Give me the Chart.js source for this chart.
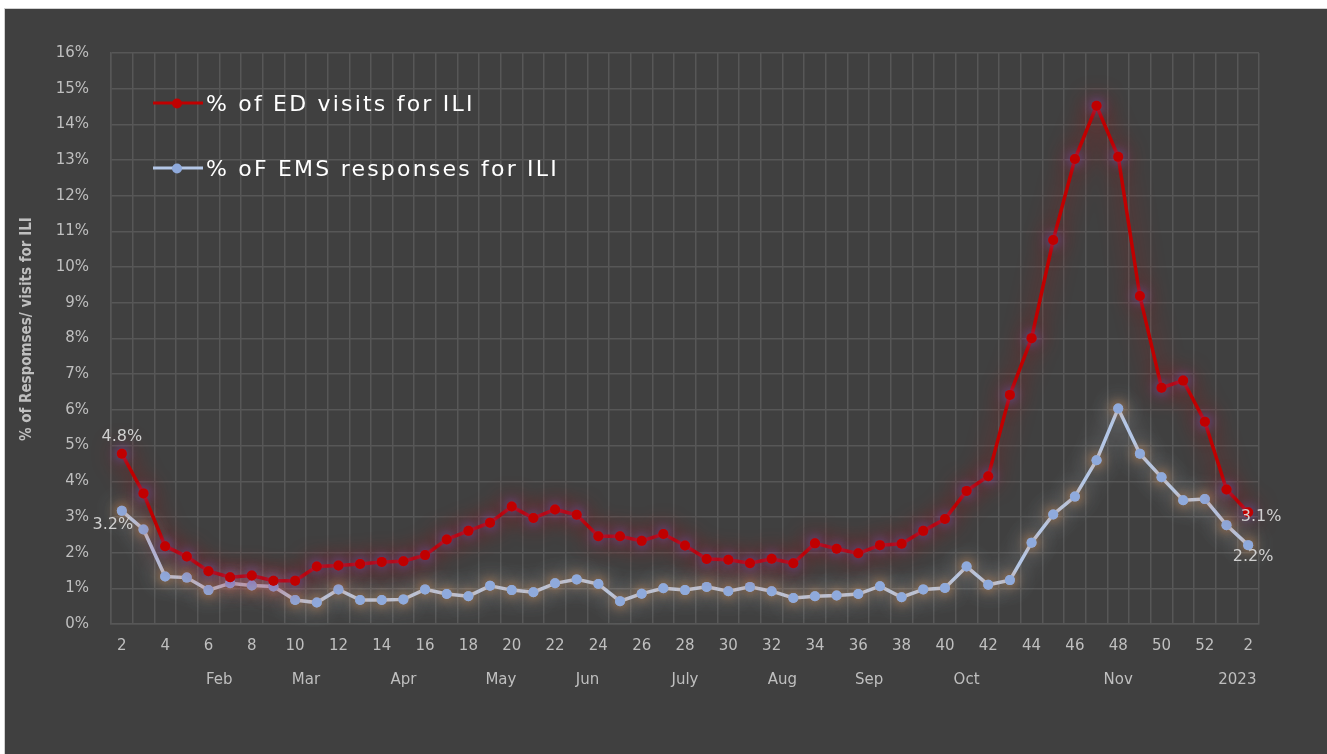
<!DOCTYPE html>
<html>
<head>
<meta charset="utf-8">
<script src="https://cdn.jsdelivr.net/npm/chart.js@4.4.1/dist/chart.umd.min.js"></script>
<style>
html,body{margin:0;padding:0;background:#ffffff;width:1327px;height:754px;overflow:hidden}
#frame{position:absolute;left:4px;top:8px;width:1322px;height:745px;background:#404040;border-left:1px solid #d0d0d0;border-top:1px solid #d0d0d0}
#wrap{position:absolute;left:0;top:0;width:1322px;height:745px}
#legend{position:absolute;left:0;top:0;font-family:'DejaVu Sans',sans-serif;font-size:22px;letter-spacing:2.2px;color:#ffffff}
.item{position:absolute;display:flex;align-items:center;white-space:nowrap;transform:translateY(-50%)}
.swatch{position:relative;width:50px;height:12px;margin-right:3px}
.swatch .ln{position:absolute;left:0;right:0;top:4.5px;height:3px}
.swatch .dt{position:absolute;left:19px;top:1px;width:10px;height:10px;border-radius:50%}
</style>
</head>
<body>
<div id="frame">
  <div id="wrap"><canvas id="c" width="1322" height="745"></canvas></div>
  <div id="legend"></div>
</div>
<script>
// ---- data ----
const weeks = ['2','3','4','5','6','7','8','9','10','11','12','13','14','15','16','17','18','19','20','21','22','23','24','25','26','27','28','29','30','31','32','33','34','35','36','37','38','39','40','41','42','43','44','45','46','47','48','49','50','51','52','1','2'];
const edVisits = [4.77,3.66,2.18,1.89,1.48,1.31,1.36,1.21,1.21,1.61,1.64,1.68,1.74,1.76,1.93,2.37,2.61,2.84,3.29,2.97,3.21,3.06,2.46,2.46,2.33,2.52,2.20,1.82,1.80,1.70,1.83,1.70,2.26,2.11,1.98,2.21,2.25,2.61,2.94,3.73,4.14,6.42,8.01,10.76,13.03,14.52,13.09,9.19,6.62,6.82,5.67,3.77,3.13];
const emsResponses = [3.17,2.65,1.33,1.30,0.95,1.14,1.08,1.05,0.67,0.60,0.97,0.67,0.67,0.69,0.97,0.84,0.78,1.07,0.95,0.89,1.14,1.25,1.12,0.64,0.85,1.00,0.95,1.04,0.92,1.04,0.92,0.73,0.78,0.80,0.84,1.06,0.75,0.97,1.01,1.61,1.10,1.23,2.28,3.07,3.57,4.59,6.04,4.77,4.11,3.47,3.50,2.77,2.21];
const monthLabels = ['Feb','Mar','Apr','May','Jun','July','Aug','Sep','Oct','Nov','2023'];
const monthPositions = [4.5,8.5,13,17.5,21.5,26,30.5,34.5,39,46,51.5];
const seriesNames = ['% of ED visits for ILI','% oF EMS responses for ILI'];
const yTitle = '% of Respomses/ visits for ILI';
const yMin = 0, yMax = 16, yStep = 1;

// ---- styles ----
const GRID = '#575757';
const TICK = '#bfbfbf';
const TICKFONT = {family:"'DejaVu Sans', sans-serif", size:15};

const glowPlugin = {
  id:'glow',
  beforeDatasetDraw(chart, args){
    const ds = chart.data.datasets[args.index];
    const ctx = chart.ctx;
    ctx.save();
    ctx.shadowColor = ds.glowColor;
    ctx.shadowBlur = 24;
  },
  afterDatasetDraw(chart, args){
    const ds = chart.data.datasets[args.index];
    const ctx = chart.ctx;
    ctx.restore();
    ctx.save();
    ctx.shadowColor = ds.pointGlow;
    ctx.shadowBlur = 12;
    args.meta.data.forEach(p => p.draw(ctx, chart.chartArea));
    ctx.restore();
  }
};

const endLabelPlugin = {
  id:'endLabels',
  afterDatasetsDraw(chart){
    const ctx = chart.ctx;
    ctx.save();
    ctx.fillStyle = '#d0d0d0';
    ctx.font = "16px 'DejaVu Sans', sans-serif";
    ctx.textAlign = 'center';
    ctx.textBaseline = 'middle';
    const specs = [
      {ds:0, first:true, dx:0, dy:-17},
      {ds:1, first:true, dx:-9, dy:14},
      {ds:0, first:false, dx:13, dy:5},
      {ds:1, first:false, dx:5, dy:12}
    ];
    specs.forEach(s => {
      const meta = chart.getDatasetMeta(s.ds);
      const data = chart.data.datasets[s.ds].data;
      const i = s.first ? 0 : data.length - 1;
      const pt = meta.data[i];
      ctx.fillText(data[i].toFixed(1) + '%', pt.x + s.dx, pt.y + s.dy);
    });
    ctx.restore();
  }
};

const chart = new Chart(document.getElementById('c'), {
  type:'line',
  data:{
    labels: weeks,
    datasets:[
      {label:seriesNames[0], data:edVisits, borderColor:'#c00000', backgroundColor:'#c00000',
       pointBackgroundColor:'#c00000', pointBorderColor:'#c00000', borderWidth:3.5, pointRadius:5, pointBorderWidth:0,
       tension:0, clip:false, glowColor:'rgba(190,20,20,0.9)', pointGlow:'rgba(120,90,220,0.9)'},
      {label:seriesNames[1], data:emsResponses, borderColor:'#b4c7e7', backgroundColor:'#8faadc',
       pointBackgroundColor:'#8faadc', pointBorderColor:'#8faadc', borderWidth:3.5, pointRadius:5, pointBorderWidth:0,
       tension:0, clip:false, glowColor:'rgba(215,220,230,0.7)', pointGlow:'rgba(240,150,70,0.9)'}
    ]
  },
  options:{
    responsive:false,
    animation:false,
    events:[],
    layout:{padding:{left:0, top:44, right:68, bottom:0}},
    plugins:{legend:{display:false}, tooltip:{enabled:false}},
    scales:{
      y:{
        min:yMin, max:yMax,
        ticks:{stepSize:yStep, color:TICK, font:TICKFONT, padding:22, callback:v => v + '%'},
        grid:{color:GRID, lineWidth:1.5, drawTicks:false},
        border:{color:GRID, width:1.5},
        title:{display:true, text:'    ' + yTitle, color:TICK,
               font:{family:"'Liberation Sans Narrow','DejaVu Sans Condensed',sans-serif", size:15, weight:'bold'},
               padding:{top:13, bottom:0}},
        afterFit(s){ s.width = 106; }
      },
      x:{
        type:'category', offset:true, weight:0,
        ticks:{color:TICK, font:TICKFONT, padding:13, autoSkip:false, maxRotation:0,
               callback:function(v, i){ return i % 2 === 0 ? this.getLabelForValue(v) : ''; }},
        grid:{color:GRID, lineWidth:1.5, drawTicks:false, offset:true},
        border:{color:GRID, width:1.5},
        afterFit(s){ s.height = 34; }
      },
      x2:{
        type:'linear', position:'bottom', weight:1, bounds:'data',
        min:-0.5, max:weeks.length - 0.5,
        afterBuildTicks(s){ s.ticks = monthPositions.map(v => ({value:v})); },
        ticks:{color:TICK, font:TICKFONT, padding:13, autoSkip:false, maxRotation:0,
               callback:(v, i) => monthLabels[i]},
        grid:{display:false, drawTicks:false},
        border:{display:false},
        afterFit(s){ s.height = 96; }
      }
    }
  },
  plugins:[glowPlugin, endLabelPlugin]
});

// ---- legend (HTML, built from dataset config) ----
(function(){
  const area = chart.chartArea;
  const leg = document.getElementById('legend');
  const rowOffsets = [50, 115];
  chart.data.datasets.forEach((ds, k) => {
    const it = document.createElement('div');
    it.className = 'item';
    it.style.left = (area.left + 42) + 'px';
    it.style.top = (area.top + rowOffsets[k]) + 'px';
    const sw = document.createElement('div'); sw.className = 'swatch';
    const ln = document.createElement('div'); ln.className = 'ln'; ln.style.background = ds.borderColor;
    const dt = document.createElement('div'); dt.className = 'dt'; dt.style.background = ds.pointBackgroundColor;
    sw.appendChild(ln); sw.appendChild(dt);
    const tx = document.createElement('span'); tx.textContent = ds.label;
    it.appendChild(sw); it.appendChild(tx);
    leg.appendChild(it);
  });
})();
</script>
</body>
</html>
